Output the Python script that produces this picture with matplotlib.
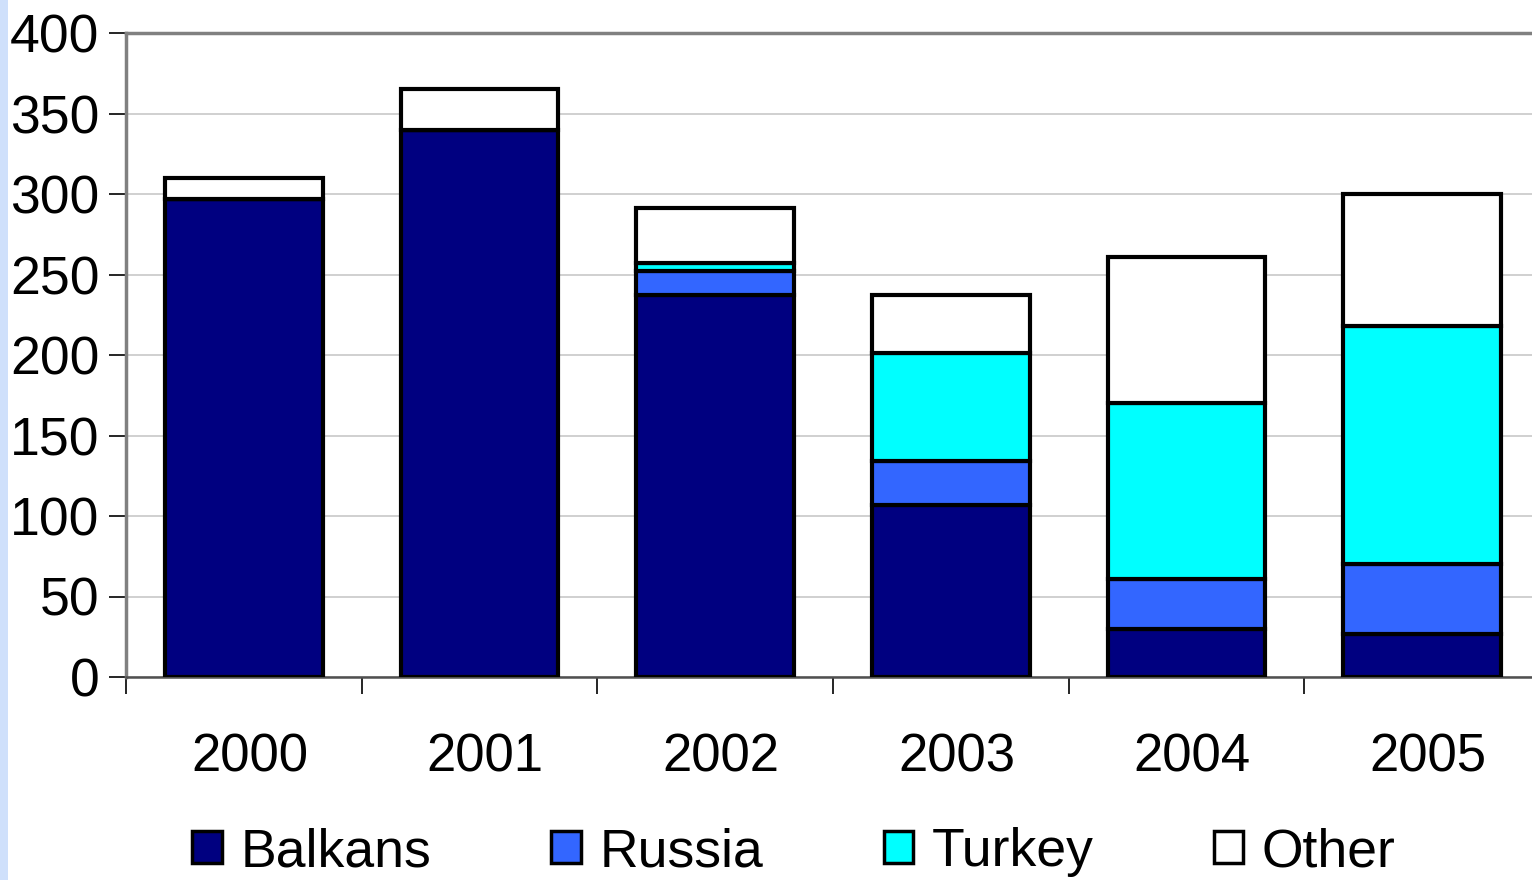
import matplotlib.pyplot as plt
import matplotlib.patches as mpatches
from matplotlib.ticker import FixedLocator, NullFormatter

plt.rcParams['font.family'] = ['Liberation Sans', 'DejaVu Sans']

years = ['2000', '2001', '2002', '2003', '2004', '2005']
balkans = [297, 340, 237, 107, 30, 27]
russia = [0, 0, 15, 27, 31, 43]
turkey = [0, 0, 5, 67, 109, 148]
other = [13, 25, 34, 36, 91, 82]

series = [('Balkans', balkans, '#000080'),
          ('Russia', russia, '#3366FF'),
          ('Turkey', turkey, '#00FFFF'),
          ('Other', other, '#FFFFFF')]

fig = plt.figure(figsize=(15.32, 8.8), dpi=100)
ax = fig.add_axes([126/1532, 1 - 677/880, 1414/1532, 644/880])

x = list(range(len(years)))
bottom = [0] * len(years)
for name, vals, col in series:
    ax.bar(x, vals, 0.67, bottom=bottom, color=col, edgecolor='black',
           linewidth=3.0, label=name, zorder=3)
    bottom = [b + v for b, v in zip(bottom, vals)]

ax.set_xlim(-0.5, 5.5)
ax.set_ylim(0, 400)
ax.set_yticks(range(0, 401, 50))
ax.set_xticks([i + 0.025 for i in x])
ax.set_xticklabels(years)
ax.xaxis.set_minor_locator(FixedLocator([i - 0.5 for i in range(7)]))
ax.xaxis.set_minor_formatter(NullFormatter())
ax.tick_params(axis='x', which='major', length=0, pad=40, labelsize=38)
ax.tick_params(axis='x', which='minor', length=12, width=1.2, direction='out')
ax.tick_params(axis='y', length=12, width=1.2, direction='out', pad=7, labelsize=38.5)

ax.yaxis.grid(True, color='#c8c8c8', linewidth=1.2, zorder=0)
ax.set_axisbelow(True)
for s in ['top', 'left']:
    ax.spines[s].set_color('#808080')
    ax.spines[s].set_linewidth(2.5)
ax.spines['bottom'].set_color('#505050')
ax.spines['bottom'].set_linewidth(1.8)
ax.spines['right'].set_visible(False)

handles = [mpatches.Patch(facecolor=c, edgecolor='black', linewidth=2.5, label=n)
           for n, v, c in series]
fig.legend(handles=handles, loc='center', bbox_to_anchor=(794/1532, 1 - 852/880),
           ncol=4, frameon=False, fontsize=38.5, handlelength=0.55, handleheight=0.55,
           handletextpad=0.35, columnspacing=2.25, borderaxespad=0)

# light blue strip on the left edge
fig.patches.append(mpatches.Rectangle((0, 0), 8/1532, 1, transform=fig.transFigure,
                                      facecolor='#cfe0fb', edgecolor='none'))

fig.savefig('out.png', dpi=100)
